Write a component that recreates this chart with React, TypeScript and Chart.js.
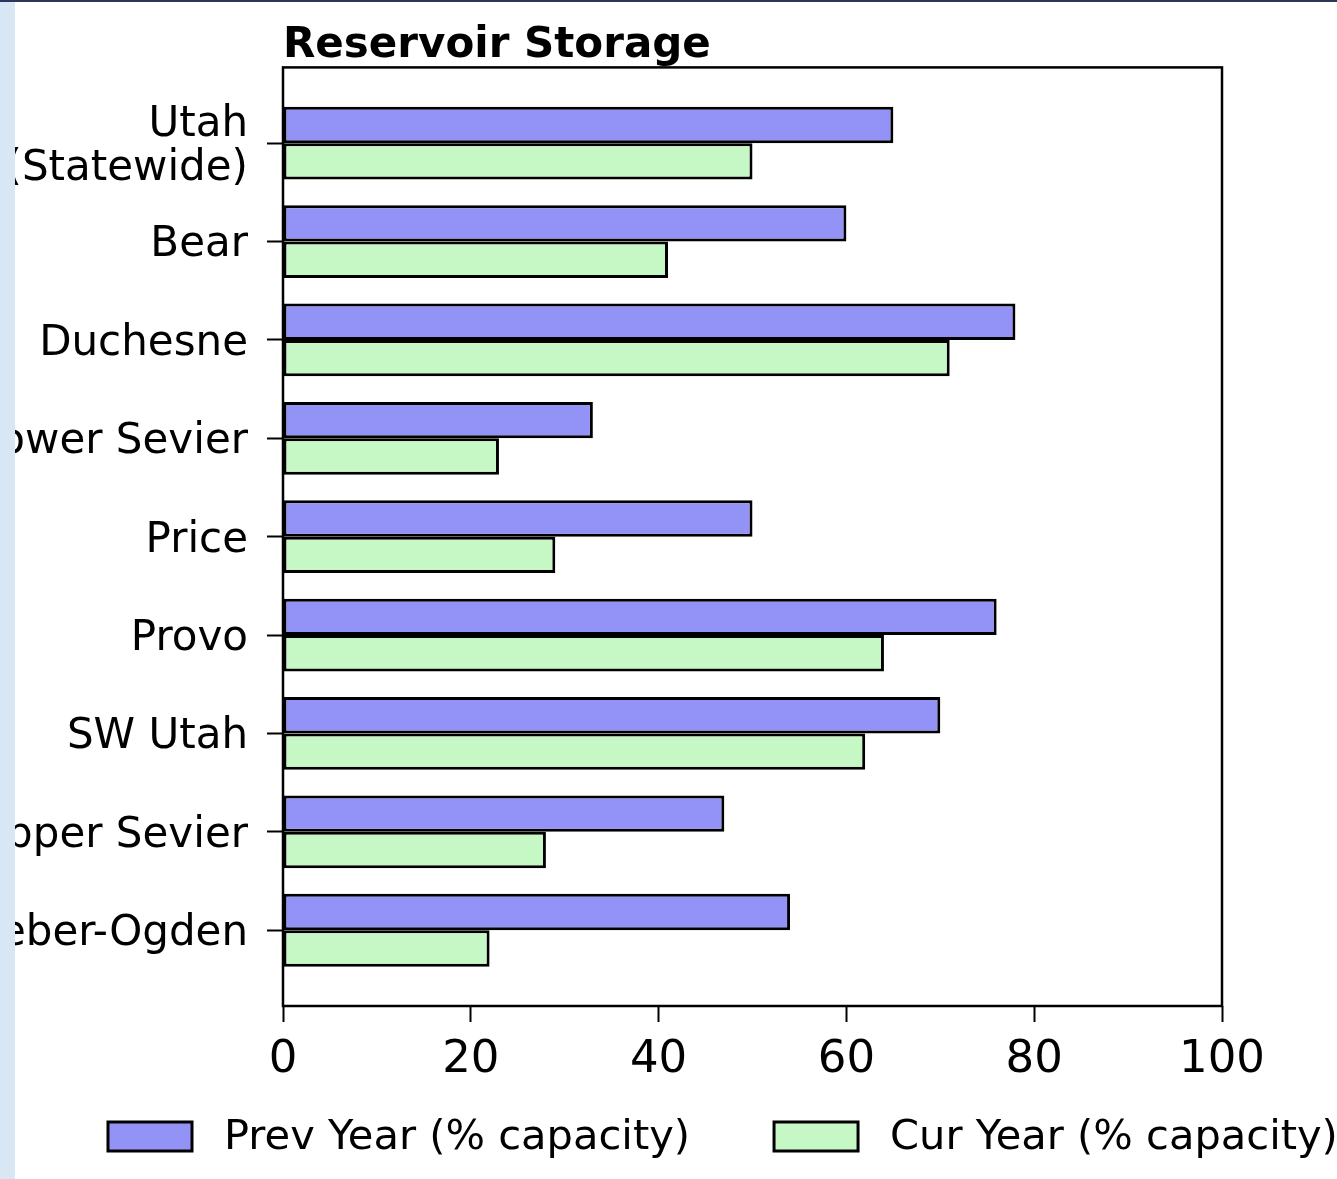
import React, { useEffect, useRef } from 'react';
import { Chart, registerables } from 'chart.js';

Chart.register(...registerables);

const categories = [
  'Utah\n(Statewide)',
  'Bear',
  'Duchesne',
  'Lower Sevier',
  'Price',
  'Provo',
  'SW Utah',
  'Upper Sevier',
  'Weber-Ogden',
];
const prevYear = [65, 60, 78, 33, 50, 76, 70, 47, 54];
const curYear = [50, 41, 71, 23, 29, 64, 62, 28, 22];
const xTicks = [0, 20, 40, 60, 80, 100];
const seriesLabels = ['Prev Year (% capacity)', 'Cur Year (% capacity)'];
const titleText = 'Reservoir Storage';

const FONT = '"DejaVu Sans", "Liberation Sans", sans-serif';

const framePlugin = {
  id: 'frame',
  afterDatasetsDraw(chart: any) {
    const { ctx, chartArea } = chart;
    ctx.save();
    ctx.strokeStyle = '#000';
    ctx.lineWidth = 2.5;
    ctx.strokeRect(chartArea.left, chartArea.top, chartArea.right - chartArea.left, chartArea.bottom - chartArea.top);
    ctx.restore();
  },
};

const legendPlugin = {
  id: 'mplLegend',
  afterDraw(chart: any) {
    const { ctx, chartArea } = chart;
    ctx.save();
    ctx.font = `41.6px ${FONT}`;
    ctx.textBaseline = 'middle';
    ctx.textAlign = 'left';
    let x = chartArea.left - 175;
    const boxTop = chartArea.bottom + 116;
    chart.data.datasets.forEach((ds: any) => {
      ctx.fillStyle = ds.backgroundColor;
      ctx.fillRect(x, boxTop, 84, 29);
      ctx.lineWidth = 3;
      ctx.strokeStyle = '#000';
      ctx.strokeRect(x, boxTop, 84, 29);
      const tx = x + 116;
      ctx.fillStyle = '#000';
      ctx.fillText(ds.label, tx, boxTop + 16);
      x = tx + ctx.measureText(ds.label).width + 84;
    });
    ctx.restore();
  },
};

export default function App() {
  const ref = useRef<HTMLCanvasElement | null>(null);

  useEffect(() => {
    if (!ref.current) return;
    const chart = new Chart(ref.current, {
      type: 'bar',
      data: {
        datasets: [
          {
            label: seriesLabels[0],
            data: prevYear.map((v, i) => ({ x: v, y: i })),
            backgroundColor: '#9292f7',
            borderColor: '#000',
            borderWidth: 3,
            borderSkipped: false,
            categoryPercentage: 0.74,
            barPercentage: 1,
          },
          {
            label: seriesLabels[1],
            data: curYear.map((v, i) => ({ x: v, y: i })),
            backgroundColor: '#c6f8c6',
            borderColor: '#000',
            borderWidth: 3,
            borderSkipped: false,
            categoryPercentage: 0.74,
            barPercentage: 1,
          },
        ],
      },
      options: {
        indexAxis: 'y',
        animation: false,
        responsive: false,
        devicePixelRatio: 1,
        layout: { padding: { left: 0, right: 115, top: 0, bottom: 81 } },
        scales: {
          x: {
            type: 'linear',
            min: 0,
            max: 100,
            afterBuildTicks: (s: any) => {
              s.ticks = xTicks.map((v) => ({ value: v }));
            },
            border: { display: false },
            grid: {
              display: true,
              drawOnChartArea: false,
              drawTicks: true,
              tickLength: 16,
              tickWidth: 2,
              tickColor: '#000',
            },
            ticks: {
              color: '#000',
              font: { family: FONT, size: 45 },
              padding: 11,
              maxRotation: 0,
              autoSkip: false,
            },
          },
          y: {
            type: 'linear',
            min: -0.77,
            max: 8.77,
            reverse: true,
            offset: false,
            afterBuildTicks: (s: any) => {
              s.ticks = categories.map((_, i) => ({ value: i }));
            },
            afterFit: (s: any) => {
              s.width = 283;
            },
            border: { display: false },
            grid: {
              display: true,
              offset: false,
              drawOnChartArea: false,
              drawTicks: true,
              tickLength: 16,
              tickWidth: 2,
              tickColor: '#000',
            },
            ticks: {
              color: '#000',
              font: { family: FONT, size: 42, lineHeight: 1.03 },
              padding: 19,
              labelOffset: 4,
              autoSkip: false,
              callback: (v: any) => {
                const c = categories[Math.round(Number(v))];
                return c ? c.split('\n') : '';
              },
            },
          },
        },
        plugins: {
          legend: { display: false },
          tooltip: { enabled: false },
          title: {
            display: true,
            text: titleText,
            align: 'start',
            fullSize: false,
            color: '#000',
            font: { family: FONT, size: 42, weight: 'bold' },
            padding: { top: 19, bottom: -4 },
          },
        },
      },
      plugins: [framePlugin, legendPlugin],
    } as any);
    return () => chart.destroy();
  }, []);

  return (
    <div
      style={{
        position: 'fixed',
        left: 0,
        top: 0,
        width: 1337,
        height: 1179,
        background: '#d9e7f5',
        overflow: 'hidden',
      }}
    >
      <div style={{ position: 'absolute', left: 0, top: 0, width: 1337, height: 2, background: '#2b3859' }} />
      <div
        style={{
          position: 'absolute',
          left: 15,
          top: 2,
          width: 1322,
          height: 1177,
          background: '#fff',
          overflow: 'hidden',
        }}
      >
        <canvas
          ref={ref}
          width={1337}
          height={1177}
          style={{ position: 'absolute', left: -15, top: 0, width: 1337, height: 1177 }}
        />
      </div>
    </div>
  );
}
